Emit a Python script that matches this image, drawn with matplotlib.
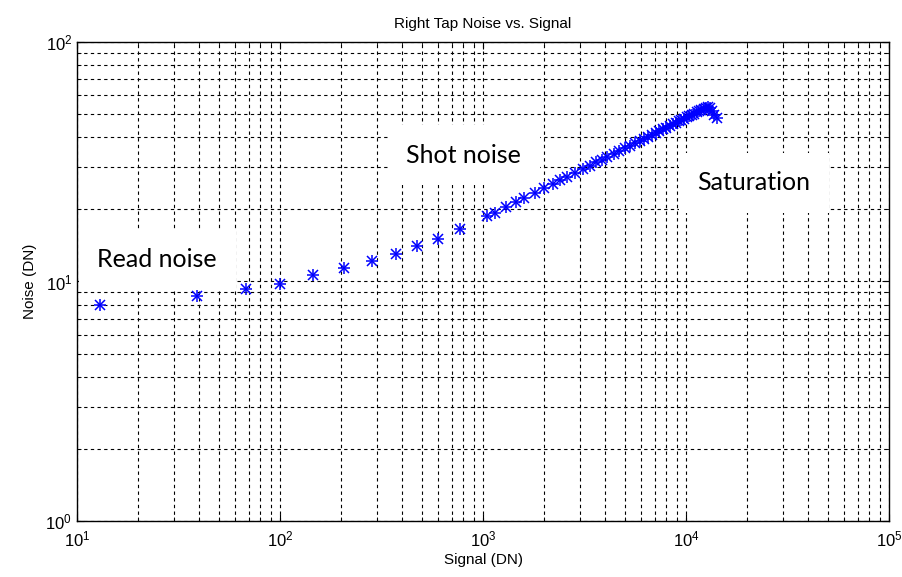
import numpy as np
import matplotlib
matplotlib.use("Agg")
import matplotlib.pyplot as plt
from matplotlib.ticker import LogLocator, NullFormatter

# signal (DN) and noise (DN)
signal = [13, 39, 68, 100, 145, 207, 284, 373, 473, 600, 770,
          1050, 1150, 1300, 1450, 1600, 1800, 2000, 2200, 2400, 2600,
          2850, 3100, 3350, 3600, 3850, 4100, 4400, 4700, 5000, 5300,
          5600, 5900, 6200, 6500, 6800, 7100, 7400, 7700, 8000, 8300,
          8600, 8900, 9200, 9500, 9800, 10100, 10400, 10700, 11000, 11300,
          11600, 11900, 12200, 12500, 12800, 13100, 13400, 13800, 14200]
noise = [7.95, 8.7, 9.3, 9.8, 10.6, 11.4, 12.2, 13.0, 14.1, 15.0, 16.6,
         18.7, 19.4, 20.5, 21.4, 22.3, 23.5, 24.5, 25.5, 26.5, 27.4,
         28.5, 29.5, 30.5, 31.4, 32.3, 33.2, 34.2, 35.1, 36.1, 36.9,
         37.8, 38.6, 39.4, 40.2, 41.0, 41.8, 42.5, 43.2, 43.9, 44.6,
         45.3, 45.9, 46.6, 47.2, 47.8, 48.4, 49.0, 49.6, 50.2, 50.8,
         51.3, 51.9, 52.4, 52.9, 53.5, 52.8, 51.5, 49.8, 48.2]

# region labels (text, x, y in data coords)
regions = ["Read noise", "Shot noise", "Saturation"]
region_x = [24.8, 805, 21600]
region_y = [12.4, 33.7, 25.8]

plt.rcParams['font.family'] = ['Liberation Sans', 'DejaVu Sans']

fig = plt.figure(figsize=(9.02, 5.77), dpi=100)
ax = fig.add_axes([0.0854, 0.0971, 0.9002, 0.8301])

# matlab style asterisk = plus + cross
ax.plot(signal, noise, linestyle='none', marker='+', color='blue',
        markersize=9, markeredgewidth=1.1, zorder=6)
ax.plot(signal, noise, linestyle='none', marker='x', color='blue',
        markersize=6.5, markeredgewidth=1.1, zorder=6)

ax.set_xscale('log')
ax.set_yscale('log')
ax.set_xlim(10, 1e5)
ax.set_ylim(1, 100)

ax.xaxis.set_major_locator(LogLocator(base=10, numticks=10))
ax.xaxis.set_minor_locator(LogLocator(base=10, subs=np.arange(2, 10), numticks=10))
ax.yaxis.set_major_locator(LogLocator(base=10, numticks=10))
ax.yaxis.set_minor_locator(LogLocator(base=10, subs=np.arange(2, 10), numticks=10))
ax.xaxis.set_minor_formatter(NullFormatter())
ax.yaxis.set_minor_formatter(NullFormatter())

ax.grid(True, which='both', color='black', linestyle=(0, (3, 3)), linewidth=0.8)
ax.tick_params(which='both', direction='in', top=True, right=True, labelsize=12)
ax.tick_params(which='major', length=5)
ax.tick_params(which='minor', length=3)
ax.tick_params(axis='x', pad=6)
for s in ax.spines.values():
    s.set_linewidth(1.0)

ax.set_title("Right Tap Noise vs. Signal", fontsize=11, pad=10)
ax.set_xlabel("Signal (DN)", fontsize=11, labelpad=3)
ax.set_ylabel("Noise (DN)", fontsize=11, labelpad=6)

for t, x, y in zip(regions, region_x, region_y):
    ax.text(x, y, t, fontsize=18, family='Lato', ha='center', va='center',
            bbox=dict(boxstyle='square,pad=0.75', facecolor='white', edgecolor='none'),
            zorder=5)

fig.savefig("out.png", dpi=100)
